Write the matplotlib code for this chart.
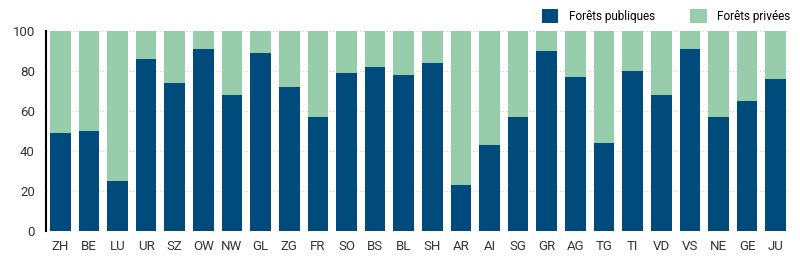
import matplotlib.pyplot as plt
import numpy as np

plt.rcParams['font.family'] = ['Roboto', 'DejaVu Sans']

cantons = ['ZH', 'BE', 'LU', 'UR', 'SZ', 'OW', 'NW', 'GL', 'ZG', 'FR', 'SO', 'BS', 'BL',
           'SH', 'AR', 'AI', 'SG', 'GR', 'AG', 'TG', 'TI', 'VD', 'VS', 'NE', 'GE', 'JU']
publiques = [49, 50, 25, 86, 74, 91, 68, 89, 72, 57, 79, 82, 78,
             84, 23, 43, 57, 90, 77, 44, 80, 68, 91, 57, 65, 76]
privees = [100 - v for v in publiques]

c_pub = '#004b7c'
c_priv = '#98cdab'

fig = plt.figure(figsize=(8, 2.61), dpi=100)
ax = fig.add_axes([0.0575, 0.116, 0.93, 0.765])

x = np.arange(len(cantons))
ax.bar(x, publiques, width=0.72, color=c_pub, label='Forêts publiques', zorder=2)
ax.bar(x, privees, width=0.72, bottom=publiques, color=c_priv, label='Forêts privées', zorder=2)

ax.set_xlim(-0.5, len(cantons) - 0.5)
ax.set_ylim(0, 100)
ax.set_yticks([0, 20, 40, 60, 80, 100])
ax.set_xticks(x)
ax.set_xticklabels(cantons)
ax.tick_params(axis='both', length=0, labelsize=9.5, colors='#333333')
ax.tick_params(axis='x', pad=7)
ax.tick_params(axis='y', pad=8)
ax.grid(axis='y', linestyle=(0, (1, 2)), color='#cccccc', linewidth=0.8, zorder=0)

for s in ['top', 'right', 'bottom']:
    ax.spines[s].set_visible(False)
ax.spines['left'].set_color('black')
ax.spines['left'].set_linewidth(1.5)

ax.legend(loc='lower right', bbox_to_anchor=(1.012, 1.0), ncol=2, frameon=False,
          fontsize=8.5, handlelength=1.4, handleheight=1.4, columnspacing=3.0,
          borderaxespad=0.3, handletextpad=0.9)

fig.savefig('out.png', dpi=100)
